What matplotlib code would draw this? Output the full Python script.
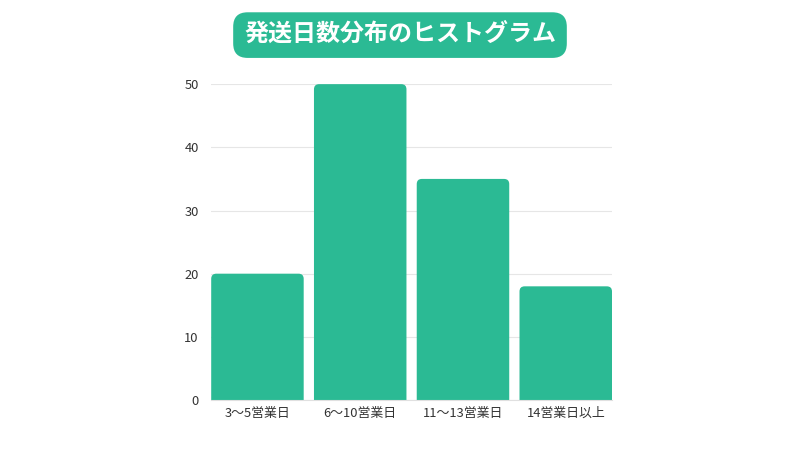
import matplotlib.pyplot as plt
from matplotlib.patches import FancyBboxPatch

plt.rcParams['font.family'] = ['Noto Sans CJK JP', 'DejaVu Sans']

categories = ['3〜5営業日', '6〜10営業日', '11〜13営業日', '14営業日以上']
counts = [20, 50, 35, 18]
yticks = [0, 10, 20, 30, 40, 50]
title = '発送日数分布のヒストグラム'

bar_color = '#2bba94'

fig = plt.figure(figsize=(8, 4.5), dpi=100)
ax = fig.add_axes([0.264, 0.111, 0.501, 0.702])

bars = ax.bar(range(len(categories)), counts, width=0.9, color=bar_color)
ax.set_xlim(-0.45, len(categories) - 0.55)
ax.set_ylim(0, 50)

# swap the plain bars for rounded ones (bottom corners clipped below 0)
px_per_x = 0.501 * 800 / 3.9
px_per_y = 0.702 * 450 / 50
aspect = px_per_x / px_per_y
for b in bars:
    x, w, h = b.get_x(), b.get_width(), b.get_height()
    b.set_visible(False)
    patch = FancyBboxPatch((x, -3), w, h + 3,
                           boxstyle='round,pad=0,rounding_size=0.05',
                           mutation_aspect=aspect,
                           facecolor=bar_color, edgecolor='none', zorder=2)
    ax.add_patch(patch)

ax.set_yticks(yticks)
ax.set_xticks(range(len(categories)))
ax.set_xticklabels(categories)
ax.tick_params(axis='both', length=0, labelsize=9.3, colors='#333333')
ax.tick_params(axis='y', pad=9)
ax.tick_params(axis='x', pad=5)
ax.grid(axis='y', color='#e6e6e6', linewidth=0.8, zorder=0)
ax.set_axisbelow(True)
for s in ['top', 'right', 'left']:
    ax.spines[s].set_visible(False)
ax.spines['bottom'].set_color('#e0e0e0')

fig.text(0.5, 0.922, title, ha='center', va='center', fontsize=17.3,
         fontweight='bold', color='white',
         bbox=dict(boxstyle='round,pad=0.45,rounding_size=0.6',
                   facecolor=bar_color, edgecolor='none'))

fig.savefig('out.png', dpi=100)
